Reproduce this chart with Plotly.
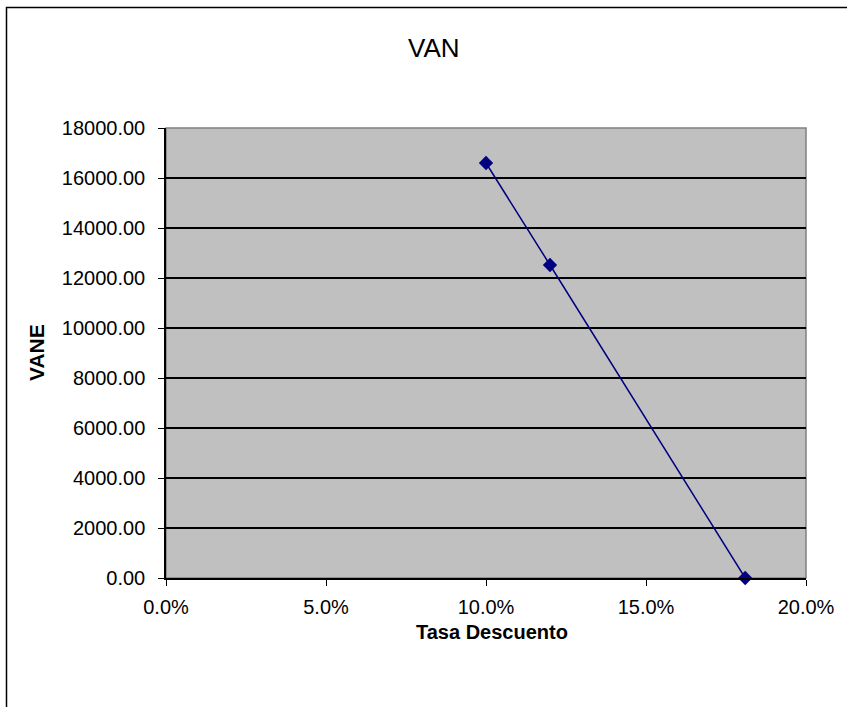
import plotly.graph_objects as go

tasa = [0.10, 0.12, 0.181]
vane = [16600, 12520, 0]
x_ticks = [0, 0.05, 0.10, 0.15, 0.20]
y_ticks = [0, 2000, 4000, 6000, 8000, 10000, 12000, 14000, 16000, 18000]

W, H = 847, 707
L, R, T, B = 166, 41, 128, 129
pw, ph = W - L - R, H - T - B

fig = go.Figure()
fig.add_trace(go.Scatter(
    x=tasa, y=vane, mode="lines+markers",
    line=dict(color="#000080", width=1.5),
    marker=dict(symbol="diamond", size=11, color="#000080"),
    cliponaxis=False, showlegend=False,
))

font = "Liberation Sans, Arial, sans-serif"
fig.update_layout(
    width=W, height=H,
    margin=dict(l=L, r=R, t=T, b=B, pad=0),
    paper_bgcolor="white", plot_bgcolor="#C0C0C0",
    font=dict(family=font, color="black", size=19),
    xaxis=dict(range=[0, 0.20], tickvals=x_ticks, tickformat=".1%",
               showgrid=False, zeroline=False, showline=True, linecolor="black",
               linewidth=1.5, ticks="outside", ticklen=6, tickcolor="black",
               tickfont=dict(size=20), ticklabelstandoff=4),
    yaxis=dict(range=[0, 18000], tickvals=y_ticks, tickformat=".2f",
               showgrid=True, gridcolor="black", gridwidth=1.5, zeroline=False,
               showline=True, linecolor="black", linewidth=1.5,
               ticks="outside", ticklen=6, tickcolor="black",
               tickfont=dict(size=20), ticklabelstandoff=9),
    shapes=[
        dict(type="rect", xref="paper", yref="paper", x0=0, x1=1, y0=0, y1=1,
             line=dict(color="#808080", width=1.5), fillcolor="rgba(0,0,0,0)", layer="below"),
        dict(type="rect", xref="paper", yref="paper",
             x0=(6.5 - L) / pw, x1=(W + 5 - L) / pw,
             y0=-(H + 5 - T - ph) / ph, y1=(H - B - 7.5) / ph,
             line=dict(color="black", width=1.5), fillcolor="rgba(0,0,0,0)"),
    ],
    annotations=[
        dict(text="VAN", xref="paper", yref="paper", x=(434 - L) / pw,
             y=(H - B - 48) / ph, showarrow=False, font=dict(size=26),
             xanchor="center", yanchor="middle"),
        dict(text="<b>VANE</b>", xref="paper", yref="paper", x=(36 - L) / pw,
             y=0.5, showarrow=False, textangle=-90, font=dict(size=21),
             xanchor="center", yanchor="middle"),
        dict(text="<b>Tasa Descuento</b>", xref="paper", yref="paper", x=(492 - L) / pw,
             y=-(632 - (H - B)) / ph, showarrow=False, font=dict(size=20),
             xanchor="center", yanchor="middle"),
    ],
)
fig.write_html("out.html", config={"displayModeBar": False},
               post_script="document.body.style.margin='0';")
